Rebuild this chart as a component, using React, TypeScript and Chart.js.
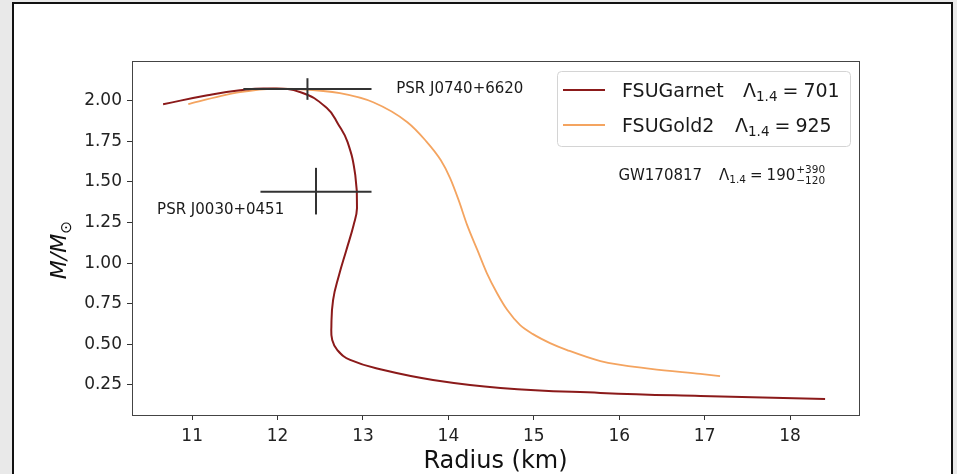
import React, { useEffect, useRef } from "react";
import { Chart, registerables } from "chart.js";

Chart.register(...registerables);

// ---- data ----
const garnetR = [10.66, 11.18, 11.56, 11.88, 12.27, 12.58, 12.71, 12.82, 12.91, 12.93, 12.89, 12.805, 12.72, 12.65, 12.63, 12.64, 12.70, 12.85, 13.24, 13.82, 14.61, 15.78, 16.95, 18.41];
const garnetM = [1.979, 2.034, 2.065, 2.076, 2.053, 1.954, 1.856, 1.745, 1.542, 1.339, 1.234, 1.08, 0.927, 0.773, 0.607, 0.527, 0.465, 0.404, 0.342, 0.281, 0.232, 0.201, 0.182, 0.164];
const gold2R = [10.955, 11.33, 11.56, 11.95, 12.27, 12.73, 13.12, 13.52, 13.73, 13.91, 14.02, 14.12, 14.22, 14.34, 14.45, 14.57, 14.69, 14.84, 14.99, 15.19, 15.39, 15.78, 16.37, 16.95, 17.18];
const gold2M = [1.979, 2.028, 2.053, 2.074, 2.071, 2.047, 1.991, 1.868, 1.757, 1.635, 1.524, 1.388, 1.234, 1.08, 0.939, 0.815, 0.711, 0.618, 0.563, 0.508, 0.465, 0.397, 0.349, 0.318, 0.305];

const pulsarNames = ["PSR J0740+6620", "PSR J0030+0451"];
const pulsarR = [12.35, 12.45];
const pulsarRLo = [11.6, 11.8];
const pulsarRHi = [13.1, 13.1];
const pulsarM = [2.072, 1.44];
const pulsarMLo = [2.006, 1.3];
const pulsarMHi = [2.139, 1.587];

const seriesNames = ["FSUGarnet", "FSUGold2"];
const seriesLambda = ["701", "925"];
const seriesColors = ["#8b1a1a", "#f4a460"];

const xTicks = [11, 12, 13, 14, 15, 16, 17, 18];
const yTicks = [0.25, 0.5, 0.75, 1.0, 1.25, 1.5, 1.75, 2.0];
const xMin = 10.296, xMax = 18.807;
const yMin = 0.065, yMax = 2.245;

const FONT = '"DejaVu Sans", sans-serif';

type Run = { t: string; size: number; dy?: number; italic?: boolean; gap?: number };
function drawRuns(ctx: CanvasRenderingContext2D, runs: Run[], x: number, y: number) {
  for (const r of runs) {
    ctx.font = `${r.italic ? "italic " : ""}${r.size}px ${FONT}`;
    ctx.fillText(r.t, x, y + (r.dy || 0));
    x += ctx.measureText(r.t).width + (r.gap || 0);
  }
  return x;
}
function measureRuns(ctx: CanvasRenderingContext2D, runs: Run[]) {
  let w = 0;
  for (const r of runs) {
    ctx.font = `${r.italic ? "italic " : ""}${r.size}px ${FONT}`;
    w += ctx.measureText(r.t).width + (r.gap || 0);
  }
  return w;
}

const overlay = {
  id: "overlay",
  afterDraw(chart: any) {
    const { ctx, chartArea: a, scales } = chart;
    const xs = scales.x, ys = scales.y;
    ctx.save();
    // spines
    ctx.strokeStyle = "#444";
    ctx.lineWidth = 1;
    ctx.strokeRect(Math.round(a.left) + 0.5, Math.round(a.top) + 0.5, Math.round(a.right - a.left), Math.round(a.bottom - a.top));

    ctx.fillStyle = "#1a1a1a";
    ctx.textBaseline = "alphabetic";
    ctx.textAlign = "left";

    // pulsar labels
    drawRuns(ctx, [{ t: pulsarNames[0], size: 15 }], xs.getPixelForValue(13.39), ys.getPixelForValue(2.047));
    drawRuns(ctx, [{ t: pulsarNames[1], size: 15 }], xs.getPixelForValue(10.59), ys.getPixelForValue(1.302));

    // GW170817 label
    {
      const gx = xs.getPixelForValue(15.99);
      const gy = ys.getPixelForValue(1.511);
      let x = drawRuns(ctx, [{ t: "GW170817", size: 15 }], gx, gy);
      x += 17;
      x = drawRuns(ctx, [
        { t: "Λ", size: 15 },
        { t: "1.4", size: 10.5, dy: 3, gap: 4 },
        { t: "=", size: 15, gap: 4 },
        { t: "190", size: 15, gap: 1 },
      ], x, gy);
      drawRuns(ctx, [{ t: "+390", size: 10.5 }], x, gy - 7);
      drawRuns(ctx, [{ t: "−120", size: 10.5 }], x, gy + 4);
    }

    // legend
    {
      const lx = a.right - 302, ly = a.top + 10, lw = 293, lh = 75;
      ctx.fillStyle = "rgba(255,255,255,0.85)";
      ctx.strokeStyle = "#d4d4d4";
      ctx.lineWidth = 1;
      ctx.beginPath();
      (ctx as any).roundRect(lx + 0.5, ly + 0.5, lw, lh, 4);
      ctx.fill();
      ctx.stroke();
      const rows = [ly + 19, ly + 54];
      const lamX = [lx + 186, lx + 178];
      for (let i = 0; i < 2; i++) {
        ctx.strokeStyle = seriesColors[i];
        ctx.lineWidth = 2;
        ctx.beginPath();
        ctx.moveTo(lx + 6, rows[i]);
        ctx.lineTo(lx + 48, rows[i]);
        ctx.stroke();
        ctx.fillStyle = "#1a1a1a";
        const by = rows[i] + 7;
        drawRuns(ctx, [{ t: seriesNames[i], size: 19 }], lx + 65, by);
        drawRuns(ctx, [
          { t: "Λ", size: 19 },
          { t: "1.4", size: 13.5, dy: 4, gap: 5 },
          { t: "=", size: 19, gap: 5 },
          { t: seriesLambda[i], size: 19 },
        ], lamX[i], by);
      }
    }

    // axis titles
    ctx.fillStyle = "#111";
    {
      const runs: Run[] = [{ t: "Radius (km)", size: 24 }];
      const w = measureRuns(ctx, runs);
      drawRuns(ctx, runs, (a.left + a.right) / 2 - w / 2, a.bottom + 53);
    }
    {
      const runs: Run[] = [
        { t: "M", size: 22, italic: true },
        { t: "/", size: 22, italic: true },
        { t: "M", size: 22, italic: true },
        { t: "⊙", size: 15.5, dy: 5 },
      ];
      const w = measureRuns(ctx, runs);
      ctx.translate(a.left - 66, (a.top + a.bottom) / 2 + 12);
      ctx.rotate(-Math.PI / 2);
      drawRuns(ctx, runs, -w / 2, 0);
    }
    ctx.restore();
  },
};

export default function App() {
  const ref = useRef<HTMLCanvasElement | null>(null);
  useEffect(() => {
    if (!ref.current) return;
    const bars: any[] = [];
    for (let i = 0; i < pulsarR.length; i++) {
      bars.push({
        label: pulsarNames[i] + " R",
        data: [{ x: pulsarRLo[i], y: pulsarM[i] }, { x: pulsarRHi[i], y: pulsarM[i] }],
        borderColor: "#333", borderWidth: 2, showLine: true, pointRadius: 0, tension: 0,
      });
      bars.push({
        label: pulsarNames[i] + " M",
        data: [{ x: pulsarR[i], y: pulsarMLo[i] }, { x: pulsarR[i], y: pulsarMHi[i] }],
        borderColor: "#333", borderWidth: 2, showLine: true, pointRadius: 0, tension: 0,
      });
    }
    const garnet = {
      label: seriesNames[0],
      data: garnetR.map((r, k) => ({ x: r, y: garnetM[k] })),
      borderColor: seriesColors[0],
      backgroundColor: seriesColors[0],
      borderWidth: 2,
      showLine: true,
      pointRadius: 0,
      tension: 0.45,
      fill: false,
    };
    const gold = {
      label: seriesNames[1],
      data: gold2R.map((r, k) => ({ x: r, y: gold2M[k] })),
      borderColor: seriesColors[1],
      backgroundColor: seriesColors[1],
      borderWidth: 1.8,
      showLine: true,
      pointRadius: 0,
      cubicInterpolationMode: "monotone",
      fill: false,
    };
    const tickFont = { family: FONT, size: 17 };
    const chart = new Chart(ref.current, {
      type: "scatter",
      data: { datasets: [...bars, garnet, gold] as any },
      options: {
        animation: false,
        responsive: false,
        maintainAspectRatio: false,
        layout: { padding: { left: 72, top: 61, right: 98, bottom: 19 } },
        plugins: { legend: { display: false }, tooltip: { enabled: false } },
        scales: {
          x: {
            type: "linear",
            min: xMin,
            max: xMax,
            afterBuildTicks: (s: any) => { s.ticks = xTicks.map((v) => ({ value: v })); },
            afterFit: (s: any) => { s.height = 40; },
            ticks: { font: tickFont, color: "#222", padding: 6, maxRotation: 0, callback: (v: any) => String(v) },
            grid: { display: true, drawOnChartArea: false, drawTicks: true, tickLength: 5, tickColor: "#333" },
            border: { display: true, color: "#444", width: 1 },
          },
          y: {
            type: "linear",
            min: yMin,
            max: yMax,
            afterBuildTicks: (s: any) => { s.ticks = yTicks.map((v) => ({ value: v })); },
            afterFit: (s: any) => { s.width = 60; },
            ticks: { font: tickFont, color: "#222", padding: 5, callback: (v: any) => Number(v).toFixed(2) },
            grid: { display: true, drawOnChartArea: false, drawTicks: true, tickLength: 5, tickColor: "#333" },
            border: { display: true, color: "#444", width: 1 },
          },
        },
      },
      plugins: [overlay],
    });
    return () => chart.destroy();
  }, []);
  return (
    <div style={{ position: "fixed", left: 0, top: 0, width: 957, height: 474, background: "#e9e9e9", overflow: "hidden" }}>
      <div style={{ position: "absolute", left: 12, top: 2, width: 941, height: 474, boxSizing: "border-box", border: "2px solid #111", background: "#fff" }} />
      <canvas ref={ref} width={957} height={474} style={{ position: "absolute", left: 0, top: 0, width: 957, height: 474 }} />
    </div>
  );
}
